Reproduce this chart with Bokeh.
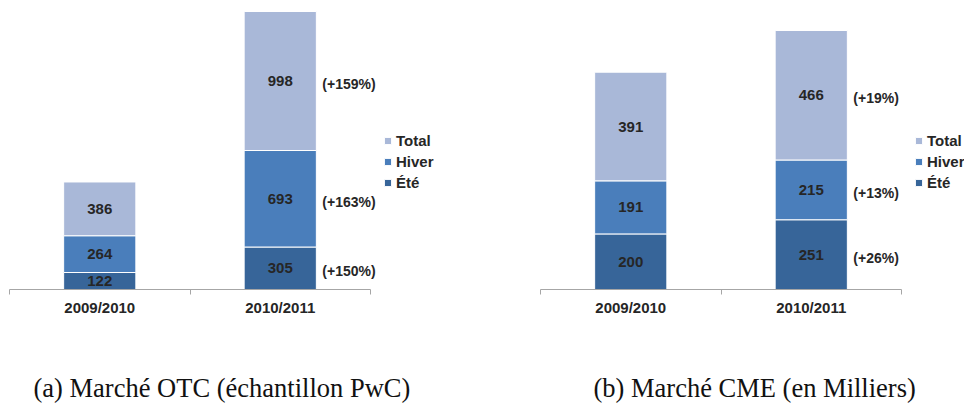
from bokeh.plotting import figure
from bokeh.layouts import row, column
from bokeh.models import (ColumnDataSource, LabelSet, Label, Legend, LegendItem,
                          FixedTicker, Range1d)
from bokeh.core.properties import value
from bokeh.embed import file_html
from bokeh.resources import INLINE

categories = ["2009/2010", "2010/2011"]
series = ["Été", "Hiver", "Total"]
colors = ["#376599", "#4A7EBB", "#A9B8D8"]

otc_ete = [122, 305]
otc_hiver = [264, 693]
otc_total = [386, 998]
otc_growth = ["(+150%)", "(+163%)", "(+159%)"]

cme_ete = [200, 251]
cme_hiver = [191, 215]
cme_total = [391, 466]
cme_growth = ["(+26%)", "(+13%)", "(+19%)"]

captions = ["(a) Marché OTC (échantillon PwC)", "(b) Marché CME (en Milliers)"]

SANS = "Liberation Sans"
SERIF = "Liberation Serif"
TXT = "#262626"
AXIS = "#A6A6A6"
PX_PER_CAT = 180.5
CHART_H = 350
FRAME_H = 289
CAP_H = 55
PANEL_W = 482


def panel(ete, hiver, total, growth, y_max, border_left):
    n = len(categories)
    xs = [i + 0.5 for i in range(n)]
    frame_w = PANEL_W - border_left
    p = figure(width=PANEL_W, height=CHART_H, output_backend="svg", toolbar_location=None,
               title=None,
               x_range=Range1d(0, frame_w / PX_PER_CAT), y_range=Range1d(0, y_max),
               y_axis_location=None, min_border_left=border_left, min_border_right=0,
               min_border_top=0, min_border_bottom=CHART_H - FRAME_H)
    p.outline_line_color = None
    p.xgrid.visible = False
    p.ygrid.visible = False

    data = {"x": xs, "Été": ete, "Hiver": hiver, "Total": total}
    src = ColumnDataSource(data)
    rs = p.vbar_stack(series, x="x", width=0.4, color=colors, source=src,
                      line_color="white", line_width=1)

    vals = [ete, hiver, total]
    lx, ly, lt = [], [], []
    gy = []
    for i in range(n):
        bottom = 0
        for s in vals:
            v = s[i]
            lx.append(xs[i])
            ly.append(bottom + v / 2)
            lt.append(str(v))
            if i == n - 1:
                gy.append(bottom + v / 2)
            bottom += v
    p.add_layout(LabelSet(x="x", y="y", text="t",
                          source=ColumnDataSource(dict(x=lx, y=ly, t=lt)),
                          text_align="center", text_baseline="middle",
                          text_font=value(SANS), text_font_size="15px",
                          text_font_style="bold", text_color=TXT))

    gx = [xs[-1] + 0.2] * len(gy)
    p.add_layout(LabelSet(x="x", y="y", text="t",
                          source=ColumnDataSource(dict(x=gx, y=gy, t=growth)),
                          x_offset=6, y_offset=-3,
                          text_align="left", text_baseline="middle",
                          text_font=value(SANS), text_font_size="14px",
                          text_font_style="bold", text_color=TXT))

    legend = Legend(items=[LegendItem(label=series[k], renderers=[rs[k]]) for k in (2, 1, 0)],
                    location=(374, 98), padding=0, margin=0, spacing=4,
                    glyph_width=9, glyph_height=9, label_height=16, label_standoff=4,
                    label_text_font=SANS, label_text_font_size="15px",
                    label_text_font_style="bold", label_text_color=TXT,
                    border_line_color=None, background_fill_alpha=0)
    p.add_layout(legend)

    ax = p.xaxis[0]
    ax.ticker = FixedTicker(ticks=xs, minor_ticks=list(range(n + 1)))
    ax.major_label_overrides = {x: c for x, c in zip(xs, categories)}
    ax.bounds = (0, n)
    ax.axis_line_color = AXIS
    ax.major_tick_line_color = None
    ax.major_tick_out = 0
    ax.major_tick_in = 0
    ax.minor_tick_line_color = AXIS
    ax.minor_tick_out = 5
    ax.minor_tick_in = 0
    ax.major_label_standoff = 4
    ax.major_label_text_font = SANS
    ax.major_label_text_font_size = "15px"
    ax.major_label_text_font_style = "bold"
    ax.major_label_text_color = TXT
    return p


p1 = panel(otc_ete, otc_hiver, otc_total, otc_growth, 2075, 9)
p2 = panel(cme_ete, cme_hiver, cme_total, cme_growth, 1040, 58)

cap = figure(width=2 * PANEL_W, height=CAP_H, output_backend="svg", toolbar_location=None,
             title=None, x_range=Range1d(0, 1), y_range=Range1d(0, 1),
             x_axis_location=None, y_axis_location=None,
             min_border=0)
cap.outline_line_color = None
cap.xgrid.visible = False
cap.ygrid.visible = False
for cx, txt in zip([33, 593], captions):
    cap.add_layout(Label(x=cx, y=17.5, x_units="screen", y_units="screen",
                         text=txt, text_font=SERIF, text_font_size="26.5px",
                         text_color="#111111", text_baseline="alphabetic"))

layout = column(row(p1, p2), cap)
open("out.html", "w").write(file_html(layout, INLINE))
